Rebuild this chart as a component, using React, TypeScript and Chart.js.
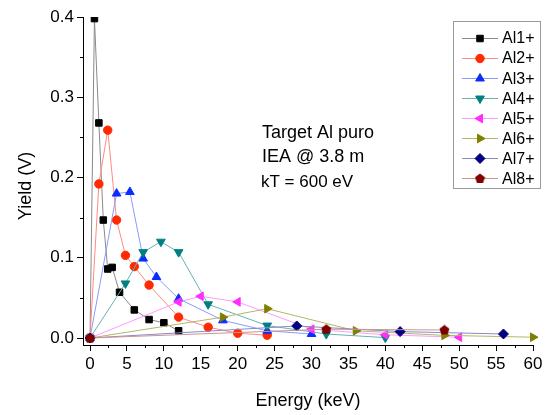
import React, { useEffect, useRef } from 'react';
import { Chart, registerables } from 'chart.js';
import { drawPoint } from 'chart.js/helpers';

Chart.register(...registerables);

// ---------- data ----------
const NAMES = ['Al1+', 'Al2+', 'Al3+', 'Al4+', 'Al5+', 'Al6+', 'Al7+', 'Al8+'];

const AL1_E = [0, 0.6, 1.2, 1.8, 2.4, 3.0, 4, 6, 8, 10, 12];
const AL1_Y = [0, 0.398, 0.268, 0.147, 0.086, 0.088, 0.057, 0.035, 0.023, 0.019, 0.009];

const AL2_E = [0, 1.2, 2.4, 3.6, 4.8, 6, 8, 12, 16, 20, 24];
const AL2_Y = [0, 0.192, 0.259, 0.147, 0.103, 0.089, 0.066, 0.026, 0.0135, 0.006, 0.0035];

const AL3_E = [0, 3.6, 5.4, 7.2, 9, 12, 18, 24, 30];
const AL3_Y = [0, 0.18, 0.182, 0.099, 0.076, 0.049, 0.022, 0.009, 0.005];

const AL4_E = [0, 4.8, 7.2, 9.6, 12, 16, 24, 32, 40];
const AL4_Y = [0, 0.068, 0.107, 0.12, 0.107, 0.042, 0.0155, 0.005, 0.0005];

const AL5_E = [0, 12, 15, 20, 30, 40, 50];
const AL5_Y = [0, 0.045, 0.052, 0.045, 0.011, 0.004, 0.001];

const AL6_E = [0, 18, 24, 36, 48, 60];
const AL6_Y = [0, 0.026, 0.0365, 0.009, 0.0033, 0.001];

const AL7_E = [0, 28, 42, 56];
const AL7_Y = [0, 0.015, 0.008, 0.005];

const AL8_E = [0, 32, 48];
const AL8_Y = [0, 0.011, 0.01];

const SERIES_E = [AL1_E, AL2_E, AL3_E, AL4_E, AL5_E, AL6_E, AL7_E, AL8_E];
const SERIES_Y = [AL1_Y, AL2_Y, AL3_Y, AL4_Y, AL5_Y, AL6_Y, AL7_Y, AL8_Y];

const X_TICKS = [0, 5, 10, 15, 20, 25, 30, 35, 40, 45, 50, 55, 60];
const X_MINOR = [2.5, 7.5, 12.5, 17.5, 22.5, 27.5, 32.5, 37.5, 42.5, 47.5, 52.5, 57.5];
const Y_TICKS = [0, 0.1, 0.2, 0.3, 0.4];
const Y_MINOR = [0.05, 0.15, 0.25, 0.35];

const X_TITLE = 'Energy (keV)';
const Y_TITLE = 'Yield (V)';
const NOTES = ['Target Al puro', 'IEA @ 3.8 m', 'kT = 600 eV'];

// ---------- styles ----------
const MARKER_COLORS = ['#000000', '#ff2a00', '#0a2dff', '#008080', '#ff2eff', '#808000', '#000080', '#800000'];
const LINE_COLORS = ['#8a8a8a', '#ff8a80', '#8a9aff', '#66b2b2', '#ff99ff', '#b5b56a', '#8a8ac4', '#c89494'];
const FONT = '"Liberation Sans", Arial, sans-serif';

function makePentagon(color: string): HTMLCanvasElement {
  const c = document.createElement('canvas');
  c.width = 11;
  c.height = 11;
  const g = c.getContext('2d')!;
  g.fillStyle = color;
  g.beginPath();
  for (let i = 0; i < 5; i++) {
    const a = -Math.PI / 2 + (i * 2 * Math.PI) / 5;
    const x = 5.5 + Math.cos(a) * 5.2;
    const y = 5.8 + Math.sin(a) * 5.2;
    if (i === 0) g.moveTo(x, y);
    else g.lineTo(x, y);
  }
  g.closePath();
  g.fill();
  return c;
}

export default function App() {
  const ref = useRef<HTMLCanvasElement | null>(null);

  useEffect(() => {
    document.body.style.margin = '0';
    const canvas = ref.current;
    if (!canvas) return;

    const pentagon = makePentagon(MARKER_COLORS[7]);
    const pointStyles: any[] = ['rect', 'circle', 'triangle', 'triangle', 'triangle', 'triangle', 'rectRot', pentagon];
    const rotations = [0, 0, 0, 180, 270, 90, 0, 0];
    const radii = [4.6, 4.2, 5, 5, 5, 5, 5, 5];

    const datasets = NAMES.map((name, i) => ({
      label: name,
      data: SERIES_E[i].map((e, j) => ({ x: e, y: SERIES_Y[i][j] })),
      borderColor: LINE_COLORS[i],
      borderWidth: 1,
      backgroundColor: MARKER_COLORS[i],
      pointBackgroundColor: MARKER_COLORS[i],
      pointBorderColor: MARKER_COLORS[i],
      pointBorderWidth: 1,
      pointStyle: pointStyles[i],
      pointRotation: rotations[i],
      pointRadius: radii[i],
      tension: 0,
      order: NAMES.length - i,
      clip: { left: 12, top: 0, right: 12, bottom: 12 },
    }));

    const decoPlugin = {
      id: 'deco',
      afterDraw(chart: any) {
        const ctx = chart.ctx as CanvasRenderingContext2D;
        const xs = chart.scales.x;
        const ys = chart.scales.y;
        const area = chart.chartArea;
        ctx.save();
        // minor ticks
        ctx.strokeStyle = '#000';
        ctx.lineWidth = 1;
        ctx.beginPath();
        for (const v of X_MINOR) {
          const px = Math.round(xs.getPixelForValue(v)) + 0.5;
          ctx.moveTo(px, area.bottom);
          ctx.lineTo(px, area.bottom + 3);
        }
        for (const v of Y_MINOR) {
          const py = Math.round(ys.getPixelForValue(v)) + 0.5;
          ctx.moveTo(area.left, py);
          ctx.lineTo(area.left - 3, py);
        }
        ctx.stroke();

        // axis titles
        ctx.fillStyle = '#000';
        ctx.font = `18px ${FONT}`;
        ctx.textAlign = 'center';
        ctx.textBaseline = 'alphabetic';
        ctx.fillText(X_TITLE, (area.left + area.right) / 2, 406);
        ctx.save();
        ctx.translate(31, 186);
        ctx.rotate(-Math.PI / 2);
        ctx.fillText(Y_TITLE, 0, 0);
        ctx.restore();

        // notes
        ctx.textAlign = 'left';
        ctx.font = `18px ${FONT}`;
        ctx.fillText(NOTES[0], 262, 138);
        ctx.fillText(NOTES[1], 262, 162);
        ctx.font = `17px ${FONT}`;
        ctx.fillText(NOTES[2], 261, 187);

        // legend
        const lx = 453.5, ly = 21.5, lw = 87, lh = 167;
        ctx.fillStyle = '#fff';
        ctx.fillRect(lx, ly, lw, lh);
        ctx.strokeStyle = '#9a9a9a';
        ctx.lineWidth = 1;
        ctx.strokeRect(lx, ly, lw, lh);
        chart.data.datasets.forEach((ds: any, i: number) => {
          const y = 38 + i * 20.05;
          ctx.strokeStyle = ds.borderColor;
          ctx.lineWidth = 1;
          ctx.beginPath();
          ctx.moveTo(462, Math.round(y) + 0.5);
          ctx.lineTo(498, Math.round(y) + 0.5);
          ctx.stroke();
          ctx.fillStyle = ds.pointBackgroundColor;
          ctx.strokeStyle = ds.pointBorderColor;
          drawPoint(ctx, { pointStyle: ds.pointStyle, rotation: ds.pointRotation, radius: ds.pointRadius, borderWidth: 1 } as any, 480, Math.round(y) + 0.5);
          ctx.fillStyle = '#000';
          ctx.font = `16px ${FONT}`;
          ctx.textAlign = 'left';
          ctx.textBaseline = 'middle';
          ctx.fillText(ds.label, 502, y + 1);
        });
        ctx.restore();
      },
    };

    const chart = new Chart(canvas, {
      type: 'line',
      data: { datasets: datasets as any },
      options: {
        animation: false,
        responsive: false,
        devicePixelRatio: 1,
        layout: { padding: { left: 0, top: 17, right: 17, bottom: 0 } },
        plugins: { legend: { display: false }, tooltip: { enabled: false } },
        scales: {
          x: {
            type: 'linear',
            min: -0.95,
            max: 60,
            afterBuildTicks: (s: any) => { s.ticks = X_TICKS.map((v) => ({ value: v })); },
            afterFit: (s: any) => { s.height = 70; },
            border: { display: true, color: '#000', width: 1 },
            grid: { drawOnChartArea: false, drawTicks: true, tickLength: 6, color: '#000', tickColor: '#000' },
            ticks: { color: '#000', font: { family: FONT, size: 17 }, padding: 3, maxRotation: 0, autoSkip: false, callback: (v: any) => String(v) },
          },
          y: {
            type: 'linear',
            min: -0.0087,
            max: 0.4,
            afterBuildTicks: (s: any) => { s.ticks = Y_TICKS.map((v) => ({ value: v })); },
            afterFit: (s: any) => { s.width = 83; },
            border: { display: true, color: '#000', width: 1 },
            grid: { drawOnChartArea: false, drawTicks: true, tickLength: 6, color: '#000', tickColor: '#000' },
            ticks: { color: '#000', font: { family: FONT, size: 17 }, padding: 3, autoSkip: false, callback: (v: any) => Number(v).toFixed(1) },
          },
        },
      },
      plugins: [decoPlugin],
    });

    return () => chart.destroy();
  }, []);

  return (
    <div style={{ width: 550, height: 415, background: '#fff' }}>
      <canvas ref={ref} width={550} height={415} style={{ display: 'block' }} />
    </div>
  );
}
